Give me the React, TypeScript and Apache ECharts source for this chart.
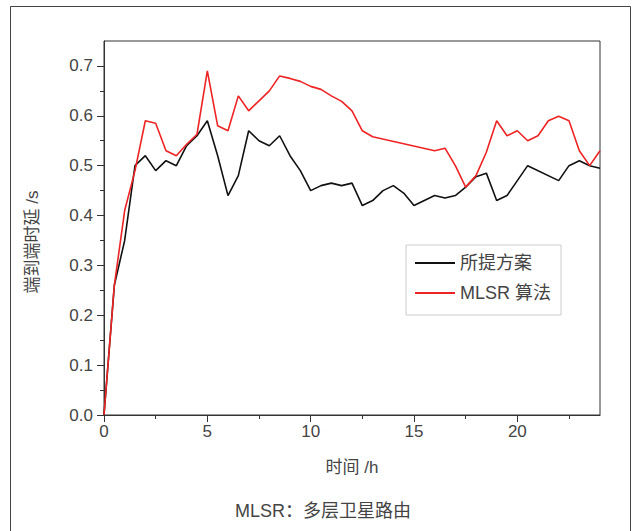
import React, { useEffect, useRef } from "react";
import * as echarts from "echarts";

const seriesNames = ["所提方案", "MLSR 算法"];

const proposedTimes = [0, 0.5, 1, 1.5, 2, 2.5, 3, 3.5, 4, 4.5, 5, 5.5, 6, 6.5, 7, 7.5, 8, 8.5, 9, 9.5, 10, 10.5, 11, 11.5, 12, 12.5, 13, 13.5, 14, 14.5, 15, 15.5, 16, 16.5, 17, 17.5, 18, 18.5, 19, 19.5, 20, 20.5, 22, 22.5, 23, 23.5, 24];
const proposedDelay = [0, 0.26, 0.35, 0.5, 0.52, 0.49, 0.51, 0.5, 0.54, 0.56, 0.59, 0.52, 0.44, 0.48, 0.57, 0.55, 0.54, 0.56, 0.52, 0.49, 0.45, 0.46, 0.465, 0.46, 0.465, 0.42, 0.43, 0.45, 0.46, 0.445, 0.42, 0.43, 0.44, 0.435, 0.44, 0.457, 0.478, 0.485, 0.43, 0.44, 0.47, 0.5, 0.47, 0.5, 0.51, 0.5, 0.495];

const mlsrTimes = [0, 0.5, 1, 1.5, 2, 2.5, 3, 3.5, 4, 4.5, 5, 5.5, 6, 6.5, 7, 7.5, 8, 8.5, 9, 9.5, 10, 10.5, 11, 11.5, 12, 12.5, 13, 16, 16.5, 17, 17.5, 18, 18.5, 19, 19.5, 20, 20.5, 21, 21.5, 22, 22.5, 23, 23.5, 24];
const mlsrDelay = [0, 0.26, 0.41, 0.49, 0.59, 0.585, 0.53, 0.52, 0.543, 0.563, 0.69, 0.58, 0.57, 0.64, 0.61, 0.63, 0.65, 0.68, 0.675, 0.669, 0.659, 0.653, 0.64, 0.629, 0.61, 0.57, 0.558, 0.53, 0.535, 0.5, 0.457, 0.48, 0.527, 0.59, 0.56, 0.57, 0.55, 0.56, 0.59, 0.599, 0.59, 0.53, 0.5, 0.53];

const xMajorTicks = [0, 5, 10, 15, 20];
const xMinorTicks = [2.5, 7.5, 12.5, 17.5, 22.5];
const yMajorTicks = [0, 0.1, 0.2, 0.3, 0.4, 0.5, 0.6, 0.7];
const yMinorTicks = [0.05, 0.15, 0.25, 0.35, 0.45, 0.55, 0.65];

const xAxisName = "时间 /h";
const yAxisName = "端到端时延 /s";
const caption = "MLSR：多层卫星路由";

const FONT = "'Liberation Sans', 'Noto Sans CJK SC', sans-serif";
const TEXT = "#444";
const AXIS = "#333";

export default function App() {
  const ref = useRef<HTMLDivElement>(null);
  useEffect(() => {
    if (!ref.current) return;
    const chart = echarts.init(ref.current, null, { renderer: "svg" });
    const pairs = (xs: number[], ys: number[]) => xs.map((x, i) => [x, ys[i]]);
    const baseX = {
      type: "value",
      min: 0,
      max: 24,
      position: "bottom",
      splitLine: { show: false },
    };
    const baseY = {
      type: "value",
      min: 0,
      max: 0.75,
      position: "left",
      splitLine: { show: false },
    };
    chart.setOption({
      animation: false,
      backgroundColor: "#fff",
      textStyle: { fontFamily: FONT },
      grid: {
        left: 104,
        right: 36,
        top: 41,
        bottom: 116,
        show: true,
        borderColor: AXIS,
        borderWidth: 1,
        backgroundColor: "transparent",
      },
      title: {
        text: caption,
        left: 230,
        top: 497,
        textStyle: { fontSize: 18, fontWeight: "normal", color: TEXT, fontFamily: FONT },
      },
      legend: {
        orient: "vertical",
        left: 406,
        top: 245,
        data: seriesNames,
        icon: "rect",
        itemWidth: 40,
        itemHeight: 2,
        itemGap: 10,
        padding: [8, 10, 12, 9],
        borderColor: "#ccc",
        borderWidth: 1,
        textStyle: { fontSize: 18, color: TEXT, lineHeight: 20, fontFamily: FONT },
      },
      xAxis: [
        {
          ...baseX,
          name: xAxisName,
          nameLocation: "middle",
          nameGap: 44,
          nameTextStyle: { fontSize: 17, color: TEXT, fontFamily: FONT },
          axisLine: { show: true, lineStyle: { color: AXIS, width: 1 } },
          axisTick: { show: true, inside: false, length: 7, customValues: xMajorTicks, lineStyle: { color: AXIS } },
          axisLabel: { show: true, customValues: xMajorTicks, fontSize: 17, color: TEXT, margin: 8, fontFamily: FONT },
        },
        {
          ...baseX,
          axisLine: { show: false },
          axisTick: { show: true, inside: false, length: 4, customValues: xMinorTicks, lineStyle: { color: AXIS } },
          axisLabel: { show: false },
        },
      ],
      yAxis: [
        {
          ...baseY,
          name: yAxisName,
          nameLocation: "middle",
          nameGap: 63,
          nameTextStyle: { fontSize: 17, color: TEXT, fontFamily: FONT, padding: [0, 28, 0, 0] },
          axisLine: { show: true, lineStyle: { color: AXIS, width: 1 } },
          axisTick: { show: true, inside: false, length: 7, customValues: yMajorTicks, lineStyle: { color: AXIS } },
          axisLabel: {
            show: true,
            customValues: yMajorTicks,
            fontSize: 17,
            color: TEXT,
            margin: 11,
            fontFamily: FONT,
            formatter: (v: number) => v.toFixed(1),
          },
        },
        {
          ...baseY,
          axisLine: { show: false },
          axisTick: { show: true, inside: false, length: 4, customValues: yMinorTicks, lineStyle: { color: AXIS } },
          axisLabel: { show: false },
        },
      ],
      graphic: [
        {
          type: "rect",
          shape: { x: 10.5, y: 6.5, width: 620, height: 600 },
          style: { fill: "none", stroke: "#444", lineWidth: 1 },
          silent: true,
          z: 100,
        },
      ],
      series: [
        {
          name: seriesNames[0],
          type: "line",
          data: pairs(proposedTimes, proposedDelay),
          showSymbol: false,
          symbol: "none",
          lineStyle: { color: "#111", width: 1.6 },
          itemStyle: { color: "#111" },
          z: 3,
        },
        {
          name: seriesNames[1],
          type: "line",
          data: pairs(mlsrTimes, mlsrDelay),
          showSymbol: false,
          symbol: "none",
          lineStyle: { color: "#ee2424", width: 1.6 },
          itemStyle: { color: "#ee2424" },
          z: 4,
        },
      ],
    });
    return () => chart.dispose();
  }, []);
  return (
    <div
      ref={ref}
      style={{ position: "fixed", left: 0, top: 0, width: 636, height: 531, background: "#fff" }}
    />
  );
}
